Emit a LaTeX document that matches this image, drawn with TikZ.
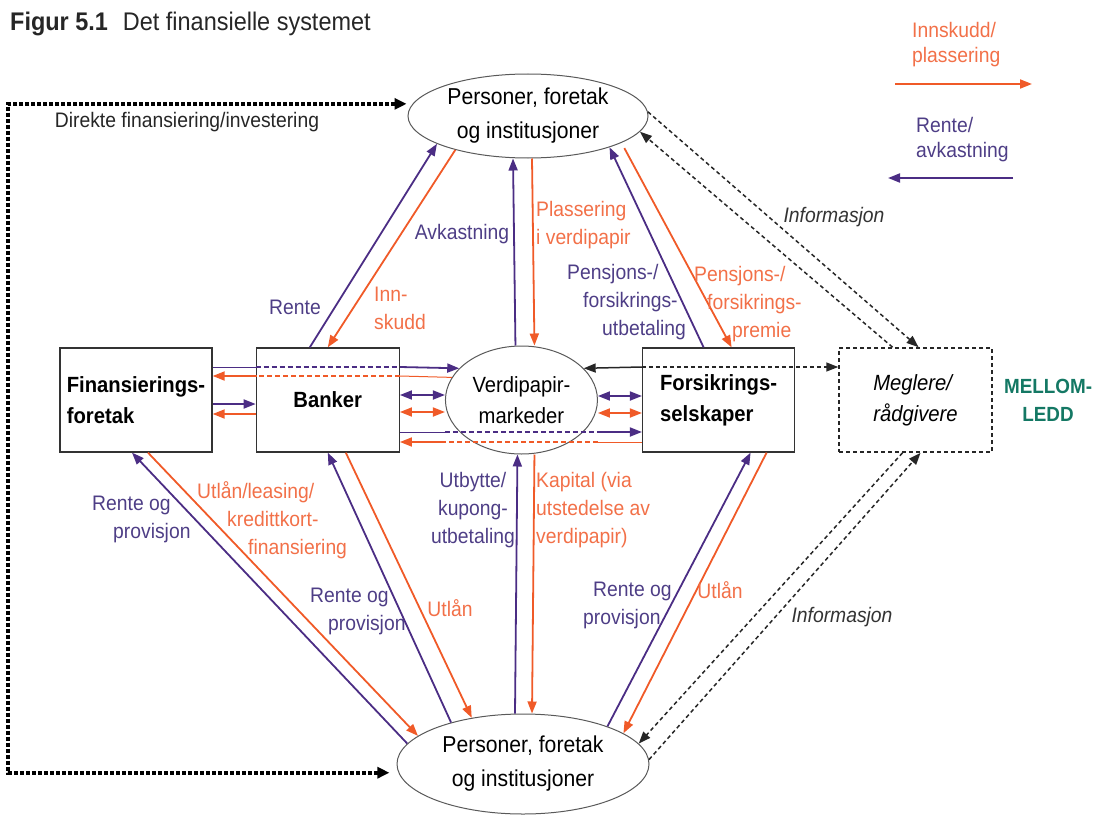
\documentclass[tikz,border=0pt]{standalone}
\usepackage{fontspec}
\setmainfont[FakeStretch=0.92]{Liberation Sans}
\usepackage{xcolor}
\usepackage{tikz}
\usetikzlibrary{positioning,arrows.meta,shapes.geometric}

\definecolor{flowred}{RGB}{240,90,40}
\definecolor{flowblue}{RGB}{75,45,132}
\definecolor{txtred}{RGB}{242,112,72}
\definecolor{txtblue}{RGB}{78,62,134}
\definecolor{midteal}{RGB}{20,120,100}
\newcommand{\lblfont}{\fontsize{21}{28}\selectfont}
\newcommand{\boxfont}{\fontsize{22}{31}\selectfont\bfseries}
\newcommand{\ovalfont}{\fontsize{23}{34}\selectfont}

\begin{document}
\begin{tikzpicture}[
    x=1pt, y=-1pt,
    >={Triangle[length=12pt,width=9pt]},
    box/.style={draw=black!80, line width=1.3pt, minimum width=152pt, minimum height=104pt, inner sep=0pt, align=left, font=\boxfont},
    oval/.style={draw=black!65, line width=1pt, ellipse, inner sep=0pt, align=center, font=\ovalfont},
    redarr/.style={draw=flowred, line width=1.8pt, ->},
    bluarr/.style={draw=flowblue, line width=1.8pt, ->},
    thinseg/.style={line width=1pt, -},
    boxdash/.style={dash pattern=on 5pt off 3pt, -},
    info/.style={draw=black!85, line width=1.5pt, dash pattern=on 4pt off 3pt, ->},
    direkte/.style={draw=black, line width=4pt, dash pattern=on 4pt off 2pt, <->, >={Triangle[length=12pt,width=11pt]}, shorten <=6pt, shorten >=9pt},
    lbl/.style={inner sep=0pt, font=\lblfont, align=left}
  ]
    \useasboundingbox (0,0) rectangle (1095,816);

    % title
    \node[anchor=base west, inner sep=0pt, font=\fontsize{25.5}{30}\selectfont, text=black!85] (tittel) at (10,31) {\textbf{Figur 5.1}\hspace{15pt}Det finansielle systemet};

    % actors
    \node[oval, minimum width=240pt, minimum height=84pt] (top) at (528,116) {Personer, foretak\\og institusjoner};
    \node[oval, minimum width=252pt, minimum height=100pt] (bot) at (523,764) {Personer, foretak\\og institusjoner};
    \node[box] (fin) at (136,400) {Finansierings-\\foretak};
    \node[box, minimum width=143pt, right=43pt of fin] (bank) {Banker};
    \node[oval, minimum width=152pt, minimum height=108pt, font=\fontsize{22}{31}\selectfont, right=45pt of bank] (mkt) {Verdipapir-\\markeder};
    \node[box, right=44pt of mkt] (ins) {Forsikrings-\\selskaper};
    \node[box, draw=black!85, line width=1.6pt, dash pattern=on 4pt off 3pt, font=\fontsize{22}{31}\selectfont\itshape, minimum width=153pt, right=43pt of ins] (megl) {Meglere/\\rådgivere};
    \node[inner sep=0pt, font=\fontsize{20.5}{28}\selectfont\bfseries, text=midteal, align=center, right=11pt of megl] (mellom) {MELLOM-\\LEDD};

    % direkte finansiering
    \coordinate (hjorne) at (8,437);
    \draw[direkte] (top.174) -| (hjorne) |- (bot.184);
    \node[lbl, text=black!85] (ldirekte) at (187,122) {Direkte finansiering/investering};

    % top <-> boxes
    \draw[bluarr] ([xshift=-18pt]bank.north) -- (top.197);
    \draw[redarr] (top.205) -- (bank.north);
    \draw[bluarr] ([xshift=-6pt]mkt.north) -- ([xshift=-15pt]top.south);
    \draw[redarr] ([xshift=4pt]top.south) -- ([xshift=13pt]mkt.north);
    \draw[bluarr] ([xshift=-15pt]ins.north) -- (top.339);
    \draw[redarr, shorten <=6pt] (top.344) -- ([xshift=13pt]ins.north);
    \draw[info] (top.2) -- ([xshift=3pt]megl.north);
    \draw[info] ([xshift=-23pt]megl.north) -- (top.352);

    % middle row
    \draw[bluarr] ([yshift=-4pt]fin.east) -- ([yshift=-4pt]bank.west);
    \draw[redarr] ([yshift=-14pt]bank.west) -- ([yshift=-14pt]fin.east);
    \draw[bluarr, thinseg] ([yshift=33pt]fin.east) -- ([yshift=33pt]bank.west);
    \draw[bluarr, boxdash] ([yshift=33pt]bank.west) -- ([yshift=33pt]bank.east);
    \draw[bluarr] ([yshift=33pt]bank.east) -- (mkt.153);
    \draw[redarr, thinseg] (mkt.162) -- ([yshift=24pt]bank.east);
    \draw[redarr, boxdash] ([yshift=24pt]bank.east) -- ([yshift=24pt]bank.west);
    \draw[redarr] ([yshift=24pt]bank.west) -- ([yshift=24pt]fin.east);

    \coordinate (bb1) at ([yshift=5pt]bank.east);
    \coordinate (br1) at ([yshift=-12pt]bank.east);
    \coordinate (ib1) at ([yshift=4pt]ins.west);
    \coordinate (ir1) at ([yshift=-13pt]ins.west);
    \draw[bluarr, <->] (bb1) -- (bb1 -| mkt.west);
    \draw[redarr, <->] (br1) -- (br1 -| mkt.west);
    \draw[bluarr, <->] (ib1) -- (ib1 -| mkt.east);
    \draw[redarr, <->] (ir1) -- (ir1 -| mkt.east);

    \coordinate (bl3) at ([yshift=-32pt]bank.east);
    \coordinate (rl3) at ([yshift=-42pt]ins.west);
    \draw[bluarr, thinseg] (bl3) -- (bl3 -| mkt.west);
    \draw[bluarr, boxdash] (bl3 -| mkt.west) -- (bl3 -| mkt.east);
    \draw[bluarr] (bl3 -| mkt.east) -- (bl3 -| ins.west);
    \draw[redarr, thinseg] (rl3) -- (rl3 -| mkt.east);
    \draw[redarr, boxdash] (rl3 -| mkt.east) -- (rl3 -| mkt.west);
    \draw[redarr] (rl3 -| mkt.west) -- (rl3 -| bank.east);

    \coordinate (sv) at ([yshift=33pt]ins.west);
    \draw[draw=black!85, line width=1.5pt, ->] (sv) -- (mkt.27);
    \draw[info] (sv) -- (sv -| megl.west);

    % bottom <-> boxes
    \draw[bluarr] (bot.170) -- ([xshift=-4pt]fin.south);
    \draw[redarr] ([xshift=12pt]fin.south) -- (bot.165);
    \draw[bluarr] (bot.150) -- (bank.south);
    \draw[redarr] ([xshift=18pt]bank.south) -- (bot.138);
    \draw[bluarr] ([xshift=-8pt]bot.north) -- ([xshift=-4pt]mkt.south);
    \draw[redarr] ([xshift=13pt]mkt.south) -- ([xshift=9pt]bot.north);
    \draw[bluarr] (bot.24) -- ([xshift=32pt]ins.south);
    \draw[redarr] ([xshift=48pt]ins.south) -- (bot.17);
    \draw[info] ([xshift=-13pt]megl.south) -- (bot.10);
    \draw[info] (bot.2) -- ([xshift=5pt]megl.south);

    % labels
    \node[lbl, text=txtblue] (lrente) at (295,307) {Rente};
    \node[lbl, text=txtred, anchor=west] (linnskudd) at (374,308) {Inn-\\skudd};
    \node[lbl, text=txtblue] (lavk) at (462,234) {Avkastning};
    \node[lbl, text=txtred, anchor=west] (lplass) at (536,225) {Plassering\\i verdipapir};
    \node[lbl, text=txtblue, anchor=west] (lputb) at (567,302) {Pensjons-/\\\hspace*{16pt}forsikrings-\\\hspace*{35pt}utbetaling};
    \node[lbl, text=txtred, anchor=west] (lprem) at (694,304) {Pensjons-/\\\hspace*{13pt}forsikrings-\\\hspace*{38pt}premie};
    \node[lbl, font=\lblfont\itshape, text=black!80] (linfo1) at (834,217) {Informasjon};
    \node[lbl, text=txtblue, anchor=west] (lfinr) at (92,519) {Rente og\\\hspace*{21pt}provisjon};
    \node[lbl, text=txtred, anchor=west] (lfinu) at (197,520) {Utlån/leasing/\\\hspace*{30pt}kredittkort-\\\hspace*{51pt}finansiering};
    \node[lbl, text=txtblue, anchor=west] (lbankr) at (310,611) {Rente og\\\hspace*{18pt}provisjon};
    \node[lbl, text=txtred] (lbanku) at (450,608) {Utlån};
    \node[lbl, text=txtblue, align=center] (lutb) at (473,510) {Utbytte/\\kupong-\\utbetaling};
    \node[lbl, text=txtred, anchor=west] (lkap) at (536,510) {Kapital (via\\utstedelse av\\verdipapir)};
    \node[lbl, text=txtblue, anchor=west] (linsr) at (583,605) {\hspace*{10pt}Rente og\\provisjon};
    \node[lbl, text=txtred] (linsu) at (720,590) {Utlån};
    \node[lbl, font=\lblfont\itshape, text=black!80] (linfo2) at (842,617) {Informasjon};

    % legend
    \node[lbl, text=txtred, anchor=west, font=\fontsize{21}{25}\selectfont] (leginn) at (912,45) {Innskudd/\\plassering};
    \coordinate (legra) at (895,84);
    \coordinate (legrb) at (1032,84);
    \draw[redarr] (legra) -- (legrb);
    \node[lbl, text=txtblue, anchor=west, font=\fontsize{21}{25}\selectfont] (legrente) at (916,140) {Rente/\\avkastning};
    \coordinate (legba) at (1013,178);
    \coordinate (legbb) at (888,178);
    \draw[bluarr] (legba) -- (legbb);
  \end{tikzpicture}
\end{document}
